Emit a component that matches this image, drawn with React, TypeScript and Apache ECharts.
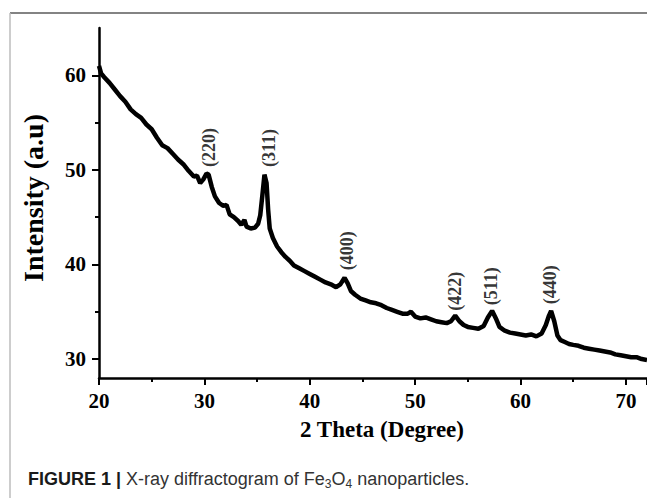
import React, { useEffect, useRef } from "react";
import * as echarts from "echarts";

// 2θ (degree) and intensity (a.u)
const twoTheta: number[] = [
  20.0, 20.2, 20.5, 21.0, 21.5, 22.0, 22.5, 23.0, 23.5, 24.0, 24.5, 25.0, 25.5, 26.0, 26.5, 27.0, 27.5, 28.0, 28.5, 29.0,
  29.3, 29.6, 29.9, 30.2, 30.4, 30.7, 31.0, 31.4, 31.8, 32.1, 32.4, 32.8, 33.2, 33.5, 33.8, 34.0, 34.4, 34.8, 35.1, 35.3,
  35.5, 35.7, 35.9, 36.05, 36.2, 36.5, 36.9, 37.3, 37.7, 38.1, 38.5, 39.0, 39.5, 40.0, 40.5, 41.0, 41.5, 42.0, 42.5, 42.9,
  43.3, 43.6, 43.9, 44.3, 44.8, 45.3, 45.8, 46.3, 46.8, 47.3, 47.8, 48.3, 48.8, 49.3, 49.6, 50.0, 50.5, 51.0, 51.5, 52.0,
  52.5, 53.0, 53.4, 53.8, 54.2, 54.6, 55.0, 55.5, 56.0, 56.5, 56.9, 57.3, 57.7, 58.0, 58.5, 59.0, 59.5, 60.0, 60.5, 61.0,
  61.5, 62.0, 62.4, 62.7, 62.9, 63.2, 63.5, 63.8, 64.2, 64.6, 65.0, 65.5, 66.0, 66.5, 67.0, 67.5, 68.0, 68.5, 69.0, 69.5,
  70.0, 70.5, 71.0, 71.5, 72.0,
];
const intensity: number[] = [
  61.0, 60.2, 59.8, 59.2, 58.5, 57.8, 57.2, 56.4, 55.9, 55.5, 54.8, 54.3, 53.4, 52.6, 52.3, 51.7, 51.1, 50.6, 49.9, 49.3,
  49.4, 48.6, 49.0, 49.6, 49.5, 48.2, 47.2, 46.5, 46.2, 46.3, 45.3, 45.0, 44.6, 44.2, 44.7, 44.0, 43.8, 43.9, 44.3, 45.2,
  47.3, 49.5, 48.6, 45.8, 43.8, 42.8, 41.9, 41.3, 40.8, 40.4, 39.9, 39.6, 39.3, 39.0, 38.7, 38.4, 38.1, 37.9, 37.6, 37.9,
  38.6, 38.0, 37.2, 36.8, 36.4, 36.2, 36.0, 35.9, 35.7, 35.4, 35.2, 35.0, 34.8, 34.8, 35.0, 34.5, 34.3, 34.4, 34.2, 34.0,
  33.9, 33.8, 34.0, 34.6, 34.0, 33.6, 33.4, 33.3, 33.2, 33.5, 34.4, 35.1, 34.2, 33.4, 33.0, 32.8, 32.7, 32.6, 32.5, 32.6,
  32.4, 32.7, 33.6, 34.6, 35.1, 34.0, 32.5, 32.0, 31.8, 31.6, 31.5, 31.4, 31.2, 31.1, 31.0, 30.9, 30.8, 30.7, 30.5, 30.4,
  30.3, 30.2, 30.2, 30.0, 29.9,
];

// Miller indices annotations
const peakLabels: string[] = ["(220)", "(311)", "(400)", "(422)", "(511)", "(440)"];
const peakLabelX: number[] = [30.4, 36.1, 43.5, 53.75, 57.2, 62.75];
const peakLabelY: number[] = [50.3, 50.3, 39.4, 35.1, 35.7, 35.8];

const xTicks: number[] = [20, 30, 40, 50, 60, 70];
const yTicks: number[] = [30, 40, 50, 60];
const yMinorTicks: number[] = [35, 45, 55];

const serif = '"Liberation Serif", "Times New Roman", serif';
const sans = '"Liberation Sans", Arial, Helvetica, sans-serif';

export default function App() {
  const ref = useRef<HTMLDivElement>(null);
  useEffect(() => {
    if (!ref.current) return;
    const chart = echarts.init(ref.current, undefined, { renderer: "svg" });
    const lineData = twoTheta.map((x, i) => [x, intensity[i]]);
    const labelData = peakLabels.map((name, i) => ({ name, value: [peakLabelX[i], peakLabelY[i]] }));
    chart.setOption({
      animation: false,
      backgroundColor: "#ffffff",
      grid: { left: 99, right: 0, top: 28, bottom: 120, containLabel: false },
      xAxis: {
        type: "value",
        min: 20,
        max: 72,
        interval: 10,
        name: "2 Theta (Degree)",
        nameLocation: "middle",
        nameGap: 40,
        nameTextStyle: {
          fontFamily: serif,
          fontWeight: "bold",
          fontSize: 23,
          color: "#000",
          padding: [0, 0, 0, 18],
        },
        axisLine: { show: true, onZero: false, lineStyle: { color: "#000", width: 2.5 } },
        axisTick: { show: true, length: 7, lineStyle: { color: "#000", width: 2 } },
        minorTick: { show: true, splitNumber: 2, length: 4, lineStyle: { color: "#000", width: 2 } },
        axisLabel: {
          margin: 12,
          fontFamily: serif,
          fontWeight: "bold",
          fontSize: 21,
          color: "#000",
          customValues: xTicks,
        },
        splitLine: { show: false },
      },
      yAxis: [
        {
          type: "value",
          min: 28,
          max: 65,
          name: "Intensity (a.u)",
          nameLocation: "middle",
          nameGap: 52,
          nameTextStyle: {
            fontFamily: serif,
            fontWeight: "bold",
            fontSize: 28,
            color: "#000",
            padding: [0, 0, 0, 10],
          },
          axisLine: { show: true, onZero: false, lineStyle: { color: "#000", width: 2.5 } },
          axisTick: { show: true, length: 7, lineStyle: { color: "#000", width: 2 }, customValues: yTicks },
          axisLabel: {
            margin: 13,
            fontFamily: serif,
            fontWeight: "bold",
            fontSize: 21,
            color: "#000",
            customValues: yTicks,
          },
          splitLine: { show: false },
        },
        {
          type: "value",
          min: 28,
          max: 65,
          position: "left",
          axisLine: { show: false },
          axisTick: { show: true, length: 4, lineStyle: { color: "#000", width: 2 }, customValues: yMinorTicks },
          axisLabel: { show: false },
          splitLine: { show: false },
        },
      ],
      series: [
        {
          type: "line",
          data: lineData,
          showSymbol: false,
          symbol: "none",
          lineStyle: { color: "#000", width: 4.5 },
          clip: true,
          silent: true,
        },
        {
          type: "scatter",
          data: labelData,
          symbolSize: 0,
          silent: true,
          label: {
            show: true,
            formatter: "{b}",
            position: [0, 0],
            rotate: 90,
            align: "left",
            verticalAlign: "middle",
            fontFamily: serif,
            fontWeight: "bold",
            fontSize: 18,
            color: "#000",
          },
        },
      ],
      graphic: [
        { type: "line", shape: { x1: 10, y1: 13, x2: 647, y2: 13 }, style: { stroke: "#5a5a5a", lineWidth: 1.5 } },
        { type: "line", shape: { x1: 10, y1: 13, x2: 10, y2: 498 }, style: { stroke: "#bdbdbd", lineWidth: 1.5 } },
        {
          type: "text",
          left: 28,
          top: 470,
          style: {
            text: "{b|FIGURE 1 | }{r|X-ray diffractogram of Fe}{s|3}{r|O}{s|4}{r| nanoparticles.}",
            rich: {
              b: { fontFamily: sans, fontWeight: "bold", fontSize: 18, fill: "#1a1a1a", lineHeight: 22 },
              r: { fontFamily: sans, fontSize: 18, fill: "#333333", lineHeight: 22 },
              s: { fontFamily: sans, fontSize: 12, fill: "#333333", lineHeight: 14, verticalAlign: "bottom" },
            },
          },
        },
      ],
    });
    return () => chart.dispose();
  }, []);
  return (
    <div
      ref={ref}
      style={{ position: "fixed", left: 0, top: 0, width: 647, height: 498, background: "#fff" }}
    />
  );
}
